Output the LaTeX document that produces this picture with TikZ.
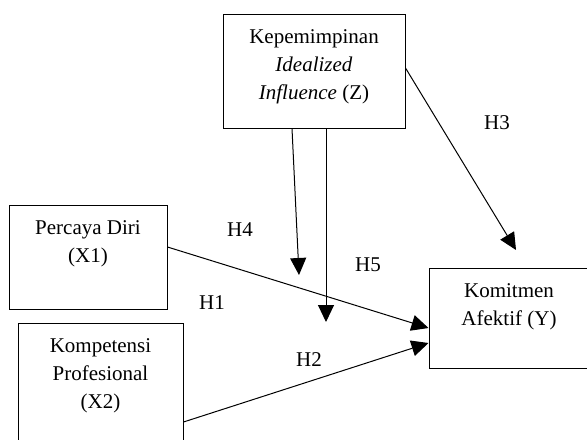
\documentclass[tikz,border=0pt]{standalone}
\usepackage{fontspec}
\setmainfont{Liberation Serif}
\usepackage{xcolor}
\usepackage{tikz}
\usetikzlibrary{arrows.meta,positioning}

\tikzset{
    varbox/.style={draw, line width=0.5pt, rectangle, inner sep=0pt},
    boxtext/.style={align=center, anchor=north, inner sep=0pt, yshift=-8pt},
    hyp/.style={inner sep=0pt},
    arrowline/.style={line width=0.5pt, -{Triangle[length=8.5pt,width=8pt]}}
}

\begin{document}
\begin{tikzpicture}[x=0.5pt, y=-0.5pt, font=\fontsize{10.5}{14}\selectfont]
                \clip (0,0) rectangle (587,439);

                % variables
                \node[varbox, minimum width=91pt, minimum height=57pt,
                    label={[boxtext]north:{Kepemimpinan\\\textit{Idealized}\\\textit{Influence} (Z)}}
                    ] (z) at (314,71) {};

                \node[varbox, minimum width=79pt, minimum height=52pt,
                    label={[boxtext]north:{Percaya Diri\\(X1)}}
                    ] (x1) at (88,257) {};

                \node[varbox, minimum width=82.5pt, minimum height=73.5pt,
                    label={[boxtext]north:{Kompetensi\\Profesional\\(X2)}}
                    ] (x2) at (100.5,396.5) {};

                \node[varbox, minimum width=80pt, minimum height=50pt,
                    label={[boxtext]north:{Komitmen\\Afektif (Y)}}
                    ] (y) at (509,318) {};

                % free ends of the moderating arrows
                \coordinate (m1) at (299,275);
                \coordinate (m2) at (326,322);
                \coordinate (m3) at (516,250);

                % arrows
                \draw[arrowline] ([yshift=5pt]x1.east) -- ([yshift=-5pt]y.west);
                \draw[arrowline] ([yshift=-12.75pt]x2.east) -- ([yshift=-12.5pt]y.west);
                \draw[arrowline] ([xshift=-11pt]z.south) -- (m1);
                \draw[arrowline] ([xshift=6pt]z.south) -- (m2);
                \draw[arrowline] ([yshift=1.5pt]z.east) -- (m3);

                % hypotheses
                \node[hyp] (h1) at (212,303) {H1};
                \node[hyp] (h2) at (309,360) {H2};
                \node[hyp] (h3) at (497,123) {H3};
                \node[hyp] (h4) at (240,230) {H4};
                \node[hyp] (h5) at (368,265) {H5};

             \end{tikzpicture}
\end{document}
